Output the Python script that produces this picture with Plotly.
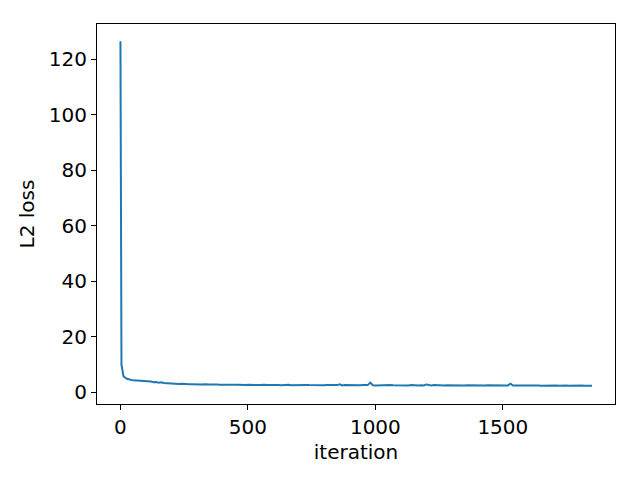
import plotly.graph_objects as go

# early iterations (sharp drop)
early_iters = [0, 1, 2, 3, 4, 5, 6, 7, 8, 10, 12, 14, 16, 18, 20, 25, 30, 35, 40, 45, 50]
early_loss = [126.5, 62.0, 11.5, 10.6, 10.0, 9.4, 8.7, 7.8, 7.0, 6.2, 5.8, 5.6, 5.4, 5.3, 5.1,
              4.9, 4.8, 4.6, 4.55, 4.4, 4.35]

# then one reading every 10 iterations, from 60 to 1850
late_start = 60
late_step = 10
late_loss = [
    4.3, 4.1, 4.2, 3.9, 4.0,
    3.8, 3.9, 3.6, 3.7, 3.5, 3.6, 3.4, 3.3, 3.4, 3.2,
    3.2, 3.1, 3.0, 3.1, 2.95, 3.0, 2.9, 2.95, 2.85, 2.9,
    2.85, 2.8, 2.9, 2.75, 2.8, 2.85, 2.7, 2.8, 2.75, 2.7,
    2.75, 2.7, 2.8, 2.65, 2.7, 2.75, 2.65, 2.7, 2.6, 2.7,
    2.65, 2.6, 2.7, 2.6, 2.65, 2.75, 2.6, 2.65, 2.6, 2.7,
    2.6, 2.65, 2.55, 2.65, 2.6, 2.7, 2.55, 2.6, 2.65, 2.55,
    2.6, 2.55, 2.65, 2.6, 2.55, 2.6, 2.7, 2.55, 2.6, 2.55,
    2.6, 2.55, 2.6, 2.55, 2.6, 2.9, 2.5, 2.6, 2.55, 2.65,
    2.55, 2.6, 2.5, 2.55, 2.6, 2.55, 2.6, 3.5, 2.55, 2.5,
    2.55, 2.5, 2.6, 2.55, 2.5, 2.6, 2.55, 2.5, 2.55, 2.6,
    2.5, 2.55, 2.5, 2.6, 2.5, 2.55, 2.5, 2.55, 2.5, 2.85,
    2.55, 2.5, 2.6, 2.5, 2.55, 2.5, 2.45, 2.55, 2.5, 2.55,
    2.5, 2.45, 2.55, 2.5, 2.45, 2.55, 2.5, 2.45, 2.5, 2.55,
    2.45, 2.5, 2.45, 2.55, 2.5, 2.45, 2.5, 2.5, 2.45, 2.5,
    2.45, 2.5, 3.1, 2.45, 2.5, 2.45, 2.5, 2.4, 2.5, 2.45,
    2.5, 2.4, 2.45, 2.5, 2.4, 2.45, 2.5, 2.4, 2.45, 2.4,
    2.45, 2.4, 2.5, 2.4, 2.45, 2.4, 2.45, 2.4, 2.45, 2.4,
    2.45, 2.4, 2.45, 2.4, 2.4,
]
late_iters = [late_start + late_step * i for i in range(len(late_loss))]

iters = early_iters + late_iters
loss = early_loss + late_loss

fig = go.Figure()
fig.add_trace(go.Scatter(
    x=iters, y=loss, mode='lines',
    line=dict(color='#1f77b4', width=2),
    showlegend=False,
))

axis_common = dict(
    showgrid=False, zeroline=False, automargin=False,
    showline=True, linecolor='black', linewidth=1, mirror=True,
    ticks='outside', ticklen=5, tickwidth=1, tickcolor='black',
    tickfont=dict(size=20, color='black'),
)

# page body has an 8px margin, so the figure is 632x472 and sits at (8, 8)
fig.update_layout(
    width=632, height=472,
    margin=dict(l=89, r=25, t=16, b=76),
    paper_bgcolor='white', plot_bgcolor='white',
    font=dict(family='DejaVu Sans', color='black'),
    xaxis=dict(range=[-92, 1940], tickvals=[0, 500, 1000, 1500],
               title=dict(text='iteration', font=dict(size=20), standoff=6),
               **axis_common),
    yaxis=dict(range=[-4.2, 132.7], tickvals=[0, 20, 40, 60, 80, 100, 120],
               title=dict(text='L2 loss', font=dict(size=20), standoff=8),
               **axis_common),
)

fig.write_html("out.html")
